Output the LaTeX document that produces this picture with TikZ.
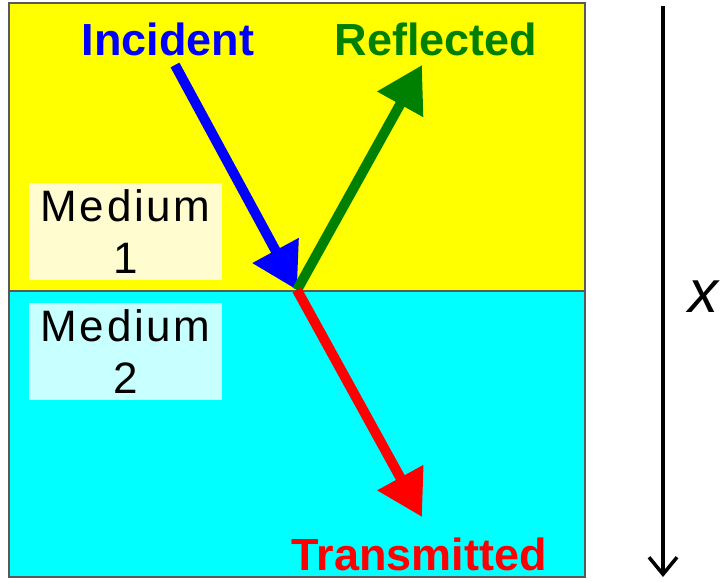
\documentclass[tikz,border=0pt]{standalone}
\usepackage{fontspec}
\setmainfont{Liberation Sans}
\usetikzlibrary{arrows.meta}
\definecolor{dgreen}{RGB}{0,128,0}
\definecolor{ryellow}{RGB}{255,255,0}
\definecolor{rcyan}{RGB}{0,255,255}
\definecolor{rblue}{RGB}{0,0,255}
\definecolor{rred}{RGB}{255,0,0}
\definecolor{pyellow}{RGB}{255,252,208}
\definecolor{pcyan}{RGB}{200,255,255}
\begin{document}
\begin{tikzpicture}[x=1pt,y=-1pt,
  medium/.style={draw=none,fill=#1,minimum width=193pt,minimum height=97pt,inner sep=0pt,align=center,
    font=\addfontfeature{LetterSpace=6}\fontsize{44}{52}\selectfont},
  lbl/.style={anchor=base,font=\bfseries\fontsize{45}{54}\selectfont,text=#1},
  ray/.style={draw=#1,line width=10pt,-{Triangle[length=45pt,width=50pt]}},
  region/.style={fill=#1,draw=black!65,line width=2pt}]
\useasboundingbox (0,0) rectangle (720,581);
\path[region=ryellow] (9,3) rectangle (585,291);
\path[region=rcyan] (9,291) rectangle (585,577);
\node[medium=pyellow] (m1) at (125.5,231.5) {Medium\\1};
\node[medium=pcyan] (m2) at (125.5,351.5) {Medium\\2};
\coordinate (O) at (297,290);
\coordinate (inc) at (175,65);
\coordinate (ref) at (422,65);
\coordinate (tra) at (422,517);
\draw[ray=rblue] (inc) -- (O);
\draw[ray=dgreen] (O) -- (ref);
\draw[ray=rred] (O) -- (tra);
\node[lbl=rblue] (tinc) at (168,55) {Incident};
\node[lbl=dgreen] (tref) at (436,55) {Reflected};
\node[lbl=rred] (ttra) at (419,570) {Transmitted};
\coordinate (xt) at (663,6);
\coordinate (xb) at (663,577);
\draw[line width=3.5pt,-{Straight Barb[length=17pt,width=28pt]}] (xt) -- (xb);
\node[anchor=base,font=\itshape\fontsize{60}{60}\selectfont] (xl) at (703,312) {x};
\end{tikzpicture}
\end{document}
